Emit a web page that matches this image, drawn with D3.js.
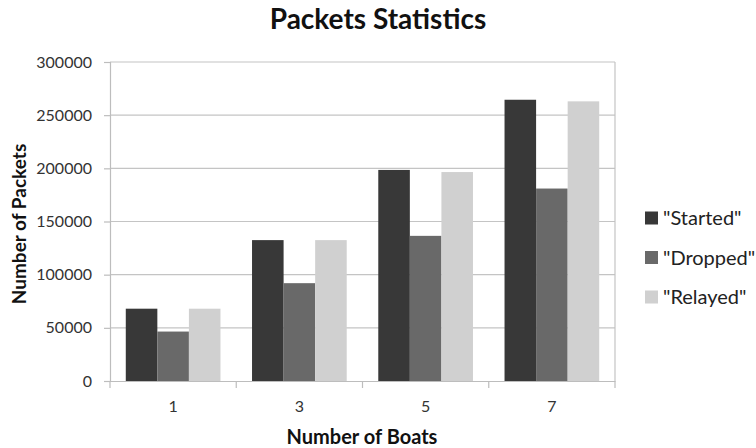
<!DOCTYPE html>
<html><head><meta charset="utf-8">
<script src="https://cdn.jsdelivr.net/npm/d3@7"></script>
<style>body{margin:0;background:#fff}svg{display:block}</style>
</head><body>
<svg id="c" width="756" height="448"></svg>
<script>
const categories = ["1", "3", "5", "7"];
const seriesNames = ["\"Started\"", "\"Dropped\"", "\"Relayed\""];
const started = [68000, 132500, 198500, 264500];
const dropped = [46500, 92000, 136500, 181000];
const relayed = [68000, 132500, 196500, 263000];
const yTicks = [0, 50000, 100000, 150000, 200000, 250000, 300000];
const colors = ["#383838", "#696969", "#d0d0d0"];

const series = [started, dropped, relayed];
const svg = d3.select("#c");
const L = 110, R = 615, T = 62, B = 381;
const font = "Lato, 'Open Sans', sans-serif";

const x0 = d3.scaleBand().domain(categories).range([L, R]).paddingInner(0.25).paddingOuter(0.125);
const x1 = d3.scaleBand().domain(d3.range(series.length)).range([0, x0.bandwidth()]);
const y = d3.scaleLinear().domain([0, 300000]).range([B, T]);

// gridlines
svg.append("g").selectAll("line").data(yTicks.slice(1)).join("line")
  .attr("x1", L).attr("x2", R).attr("y1", d => y(d)).attr("y2", d => y(d))
  .attr("stroke", "#c4c4c4").attr("stroke-width", 1.2);
// right border
svg.append("line").attr("x1", R).attr("x2", R).attr("y1", T).attr("y2", B)
  .attr("stroke", "#c4c4c4").attr("stroke-width", 1.2);

// bars
const g = svg.append("g");
categories.forEach((c, i) => {
  series.forEach((s, j) => {
    g.append("rect")
      .attr("x", x0(c) + x1(j)).attr("width", x1.bandwidth())
      .attr("y", y(s[i])).attr("height", B - y(s[i]))
      .attr("fill", colors[j]);
  });
});

// y axis
const yAxis = d3.axisLeft(y).tickValues(yTicks).tickFormat(d3.format("d")).tickSize(6).tickPadding(12);
const ya = svg.append("g").attr("transform", `translate(${L},0)`).call(yAxis);
ya.select(".domain").attr("stroke", "#bdbdbd").attr("stroke-width", 1.2);
ya.selectAll(".tick line").attr("stroke", "#bdbdbd").attr("stroke-width", 1.2);
ya.selectAll("text").attr("font-family", font).attr("font-size", 16).attr("fill", "#333");

// x axis
const xa = svg.append("g").attr("transform", `translate(0,${B})`)
  .call(d3.axisBottom(x0).tickSize(0).tickPadding(20));
xa.select(".domain").attr("stroke", "#bdbdbd").attr("stroke-width", 1.2);
xa.selectAll("text").attr("font-family", font).attr("font-size", 16).attr("fill", "#333");
// boundary ticks
const bounds = categories.map(c => x0(c) - x0.step() * 0.125).concat([R]);
svg.append("g").selectAll("line").data(bounds).join("line")
  .attr("x1", d => d).attr("x2", d => d).attr("y1", B).attr("y2", B + 7)
  .attr("stroke", "#bdbdbd").attr("stroke-width", 1.2);

// titles
svg.append("text").attr("x", 378).attr("y", 29).attr("text-anchor", "middle")
  .attr("font-family", font).attr("font-weight", "bold").attr("font-size", 28).attr("fill", "#111")
  .text("Packets Statistics");
svg.append("text").attr("x", 362).attr("y", 444).attr("text-anchor", "middle")
  .attr("font-family", font).attr("font-weight", "bold").attr("font-size", 20).attr("fill", "#111")
  .text("Number of Boats");
svg.append("text").attr("transform", "translate(26,224) rotate(-90)").attr("text-anchor", "middle")
  .attr("font-family", font).attr("font-weight", "bold").attr("font-size", 19).attr("fill", "#111")
  .text("Number of Packets");

// legend
const lg = svg.append("g");
seriesNames.forEach((n, j) => {
  const cy = 218 + j * 39.5;
  lg.append("rect").attr("x", 645).attr("y", cy - 6.5).attr("width", 13).attr("height", 13).attr("fill", colors[j]);
  lg.append("text").attr("x", 663).attr("y", cy).attr("dy", "0.35em")
    .attr("font-family", font).attr("font-size", 20).attr("fill", "#222").text(n);
});
</script>
</body></html>
